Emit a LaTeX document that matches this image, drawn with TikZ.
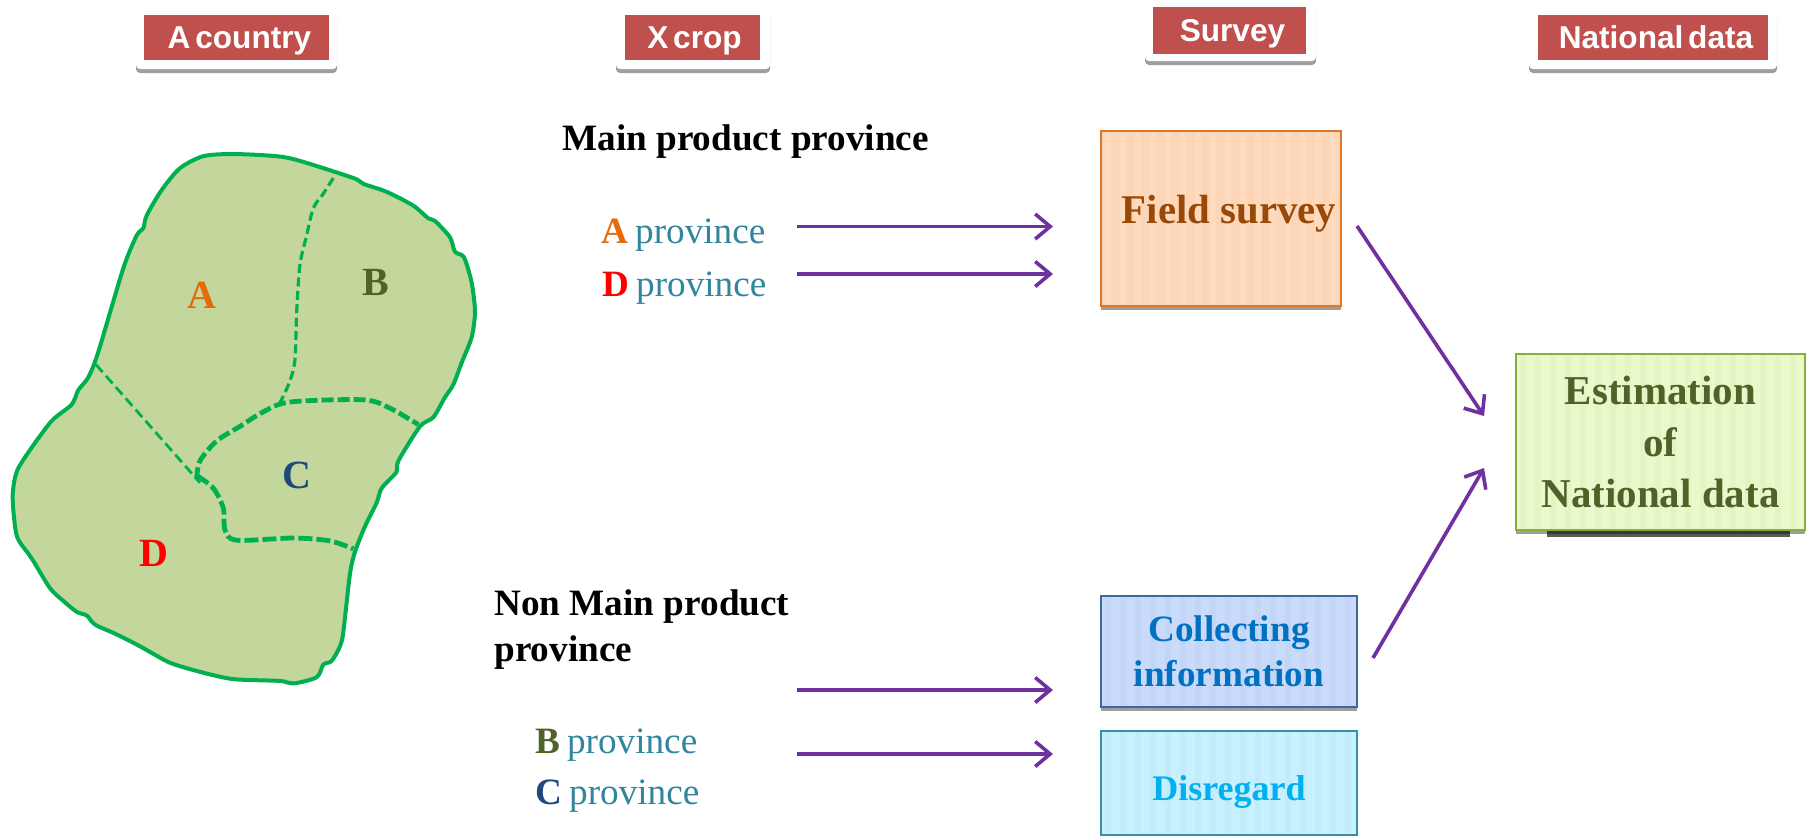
\documentclass[tikz,border=0pt]{standalone}
\usepackage{fontspec}
\setmainfont{Liberation Serif}
\newfontfamily\cardfont[WordSpace=0.55]{Liberation Sans}
\usetikzlibrary{arrows.meta,shadows}
\definecolor{cardred}{HTML}{C0504D}
\definecolor{mapgreen}{HTML}{00B050}
\definecolor{mapfill}{HTML}{C3D69B}
\definecolor{purplearrow}{HTML}{7030A0}
\definecolor{provtext}{HTML}{31859C}
\definecolor{letA}{HTML}{E36C09}
\definecolor{letB}{HTML}{4F6228}
\definecolor{letC}{HTML}{1F497D}
\definecolor{fieldline}{HTML}{D9782F}
\definecolor{fieldfill}{HTML}{FDD6B7}
\definecolor{fieldstripe}{HTML}{FEDABE}
\definecolor{fieldtext}{HTML}{984807}
\definecolor{estline}{HTML}{8DAA3E}
\definecolor{estfill}{HTML}{E8FACC}
\definecolor{eststripe}{HTML}{E2F6C4}
\definecolor{colline}{HTML}{3F689F}
\definecolor{colfill}{HTML}{C9DAFB}
\definecolor{colstripe}{HTML}{C4D6F8}
\definecolor{coltext}{HTML}{0070C0}
\definecolor{disline}{HTML}{3A8FA8}
\definecolor{disfill}{HTML}{C8F0FE}
\definecolor{disstripe}{HTML}{C2ECFA}
\definecolor{distext}{HTML}{00B0F0}
\tikzset{
  card/.style={fill=white,rounded corners=2pt,minimum height=#1,inner sep=0pt,
    drop shadow={shadow xshift=0pt,shadow yshift=-2pt,fill=black,opacity=.38}},
  cardtitle/.style={fill=cardred,text=white,inner sep=0pt,font=\cardfont\bfseries\fontsize{15.8}{18}\selectfont,
    text height=13pt,text depth=1.6pt},
  stripes/.style={path picture={
    \foreach \k in {0,1,...,40}
      \fill[#1] ([xshift=\k*7.5pt+2pt]path picture bounding box.south west) rectangle
                ([xshift=\k*7.5pt+5pt]path picture bounding box.north west);}},
  result/.style={draw=#1,line width=1pt,inner sep=0pt,align=center,
    drop shadow={shadow xshift=0pt,shadow yshift=-2.2pt,fill=black,opacity=.38}},
  flow/.style={draw=purplearrow,line width=1.8pt,-{Straight Barb[length=7.5pt,width=12.5pt,line width=1.8pt]}},
  head/.style={anchor=base west,font=\bfseries\fontsize{18.6}{22}\selectfont,inner sep=0pt},
  prov/.style={anchor=base west,text=provtext,font=\fontsize{18.6}{22}\selectfont,inner sep=0pt},
  mapletter/.style={font=\bfseries\fontsize{20}{24}\selectfont,inner sep=0pt},
  border/.style={draw=mapgreen,dashed,line cap=butt}
}
\begin{document}
\begin{tikzpicture}[x=0.5pt,y=-0.5pt]
\useasboundingbox (0,0) rectangle (1812,836);
% map
\begin{scope}[shift={(0,130)},xscale=0.33333,yscale=0.36364]
\draw[draw=mapgreen,fill=mapfill,line width=2pt,line join=round] plot[smooth cycle,tension=.45] coordinates {
(610,72)(700,66)(830,72)(900,85)(1060,132)(1090,148)(1160,170)(1240,208)(1285,243)(1305,250)(1350,295)(1365,335)(1392,350)(1415,420)(1425,500)(1415,570)(1385,640)(1360,700)(1335,735)(1300,790)(1260,815)(1195,910)(1190,940)(1145,985)(1130,1025)(1095,1090)(1065,1160)(1050,1220)(1030,1380)(1020,1420)(995,1460)(970,1470)(950,1505)(880,1522)(840,1515)(700,1510)(600,1490)(510,1465)(440,1430)(400,1410)(345,1385)(285,1360)(260,1335)(230,1325)(190,1295)(150,1260)(100,1185)(85,1165)(50,1115)(38,1010)(50,940)(90,880)(155,800)(215,755)(235,715)(265,680)(295,610)(370,380)(410,290)(430,270)(440,235)(485,165)(540,105)};
\draw[border,line width=1.6pt,dash pattern=on 4.5pt off 2.2pt] plot[smooth,tension=.5] coordinates {(1000,132)(970,175)(940,215)(920,290)(900,370)(890,500)(885,630)(870,690)(840,750)};
\draw[border,line width=1.4pt,dash pattern=on 5pt off 2.5pt] plot coordinates {(288,645)(600,970)};
\draw[border,line width=2.4pt,dash pattern=on 6pt off 2pt] plot[smooth,tension=.5] coordinates {(590,960)(600,910)(650,855)(720,815)(790,775)(870,748)(1090,742)(1170,765)(1255,810)};
\draw[border,line width=2.4pt,dash pattern=on 7pt off 2pt] plot[smooth,tension=.5] coordinates {(590,950)(640,985)(670,1040)(675,1100)(710,1128)(880,1122)(990,1130)(1060,1152)};
\node[mapletter,text=letA] (mapA) at (605,455) {A};
\node[mapletter,text=letB] (mapB) at (1128,420) {B};
\node[mapletter,text=letC] (mapC) at (890,950) {C};
\node[mapletter,text=red] (mapD) at (463,1165) {D};
\end{scope}
% title cards
\node[card=30pt,minimum width=100.5pt] (card1) at (236.5,39) {};
\node[cardtitle,minimum width=92.5pt,minimum height=22.5pt] (title1) at (236.5,37.5) {\hspace*{3pt}A country};
\node[card=30pt,minimum width=77pt] (card2) at (693,39) {};
\node[cardtitle,minimum width=67.5pt,minimum height=22.5pt] (title2) at (692.5,37.5) {\hspace*{2pt}X crop};
\node[card=30pt,minimum width=85.5pt] (card3) at (1230.5,31) {};
\node[cardtitle,minimum width=76.5pt,minimum height=23.5pt] (title3) at (1229.5,30.5) {\hspace*{3pt}Survey};
\node[card=30pt,minimum width=124pt] (card4) at (1653,39) {};
\node[cardtitle,minimum width=115pt,minimum height=22.5pt] (title4) at (1653,37.5) {\hspace*{3pt}National data};
% texts
\node[head] (mainhead) at (562,150) {Main product province};
\node[prov] (provA) at (601,243) {\textbf{\textcolor{letA}{A}}\hspace{-1.2pt} province};
\node[prov] (provD) at (602,296) {\textbf{\textcolor{red}{D}}\hspace{-1.2pt} province};
\node[head] (nonhead1) at (494,615) {Non Main product};
\node[head] (nonhead2) at (494,661) {province};
\node[prov] (provB) at (535,753) {\textbf{\textcolor{letB}{B}}\hspace{-1.2pt} province};
\node[prov] (provC) at (535,804) {\textbf{\textcolor{letC}{C}}\hspace{-1.2pt} province};
% boxes
\node[fill=black!65,minimum width=121.5pt,minimum height=6pt,inner sep=0pt] (estshadow) at (1668.5,531) {};
\node[result=fieldline,fill=fieldfill,stripes=fieldstripe,
  minimum width=120pt,minimum height=87.5pt,text=fieldtext,font=\bfseries\fontsize{20.4}{24}\selectfont]
  (field) at (1221,218.5) {\hspace*{8pt}\raisebox{9.5pt}{Field survey}};
\node[result=estline,fill=estfill,stripes=eststripe,
  minimum width=144.5pt,minimum height=88pt,text=letB,font=\bfseries\fontsize{20.5}{25.7}\selectfont]
  (est) at (1660.5,442) {Estimation\\of\\National data};
\node[result=colline,fill=colfill,stripes=colstripe,
  minimum width=128pt,minimum height=55.5pt,text=coltext,font=\bfseries\fontsize{18.6}{22.5}\selectfont]
  (collect) at (1229,651.5) {Collecting\\information};
\node[result=disline,fill=disfill,stripes=disstripe,
  minimum width=128pt,minimum height=52pt,text=distext,font=\bfseries\fontsize{18}{22}\selectfont]
  (disregard) at (1229,783) {\rule{0pt}{21pt}Disregard};
% connector ends
\coordinate (a1s) at (797,226.5); \coordinate (a1e) at (1053,226.5);
\coordinate (a2s) at (797,274);   \coordinate (a2e) at (1053,274);
\coordinate (a3s) at (797,690);   \coordinate (a3e) at (1053,690);
\coordinate (a4s) at (797,754);   \coordinate (a4e) at (1053,754);
\coordinate (a5s) at (1357,226);  \coordinate (a5e) at (1484,416);
\coordinate (a6s) at (1373,658);  \coordinate (a6e) at (1484,468);
\foreach \p in {1,...,6} \draw[flow] (a\p s) -- (a\p e);
\end{tikzpicture}
\end{document}
